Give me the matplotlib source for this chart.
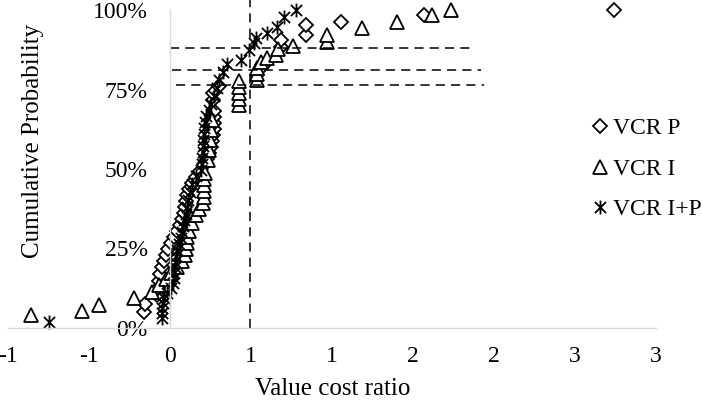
import matplotlib
matplotlib.use("Agg")
import matplotlib.pyplot as plt
from matplotlib.path import Path
from matplotlib.ticker import PercentFormatter

plt.rcParams['font.family'] = ['Liberation Serif', 'DejaVu Serif']
plt.rcParams['font.size'] = 17

# Cumulative distributions
vcr_p_x = [-0.160, -0.154, -0.080, -0.074, -0.068, -0.062, -0.049, -0.037, -0.025, -0.012,
           0.006, 0.025, 0.043, 0.062, 0.074, 0.086, 0.093, 0.099, 0.105, 0.117,
           0.136, 0.160, 0.185, 0.210, 0.228, 0.241, 0.253, 0.259, 0.265, 0.272,
           0.272, 0.272, 0.272, 0.265, 0.265, 0.302, 0.537, 0.574, 0.685, 0.685,
           0.840, 0.840, 1.056, 1.568, 2.741]
vcr_p_y = [0.050, 0.075, 0.104, 0.126, 0.148, 0.170, 0.192, 0.211, 0.230, 0.248,
           0.267, 0.286, 0.305, 0.324, 0.343, 0.362, 0.381, 0.399, 0.418, 0.437,
           0.456, 0.475, 0.494, 0.513, 0.531, 0.550, 0.569, 0.588, 0.607, 0.626,
           0.645, 0.664, 0.682, 0.717, 0.739, 0.761, 0.796, 0.824, 0.884, 0.906,
           0.921, 0.953, 0.962, 0.984, 1.000]

vcr_i_x = [-0.858, -0.543, -0.438, -0.222, -0.111, -0.068, -0.025, 0.006, 0.043, 0.074,
           0.093, 0.099, 0.105, 0.105, 0.117, 0.136, 0.160, 0.179, 0.204, 0.210,
           0.210, 0.210, 0.210, 0.216, 0.235, 0.241, 0.247, 0.253, 0.259, 0.426,
           0.426, 0.426, 0.426, 0.426, 0.537, 0.537, 0.537, 0.562, 0.599, 0.654,
           0.667, 0.759, 0.969, 0.969, 1.185, 1.401, 1.617, 1.735]
vcr_i_y = [0.041, 0.053, 0.072, 0.094, 0.113, 0.135, 0.154, 0.173, 0.192, 0.211,
           0.230, 0.248, 0.267, 0.286, 0.305, 0.330, 0.355, 0.374, 0.393, 0.412,
           0.431, 0.450, 0.469, 0.487, 0.528, 0.560, 0.591, 0.623, 0.654, 0.701,
           0.720, 0.739, 0.758, 0.777, 0.780, 0.799, 0.818, 0.836, 0.849, 0.858,
           0.877, 0.887, 0.899, 0.921, 0.943, 0.962, 0.984, 1.000]

vcr_ip_x = [-0.747, -0.049, -0.049, -0.049, -0.043, -0.037, -0.019, 0.006, 0.019, 0.025,
            0.025, 0.031, 0.031, 0.037, 0.043, 0.056, 0.068, 0.074, 0.080, 0.086,
            0.099, 0.105, 0.111, 0.123, 0.136, 0.160, 0.191, 0.198, 0.198, 0.204,
            0.204, 0.204, 0.210, 0.210, 0.216, 0.222, 0.241, 0.253, 0.272, 0.290,
            0.302, 0.327, 0.352, 0.438, 0.488, 0.519, 0.531, 0.599, 0.660, 0.704,
            0.778]
vcr_ip_y = [0.019, 0.031, 0.047, 0.063, 0.079, 0.094, 0.110, 0.126, 0.142, 0.157,
            0.173, 0.192, 0.208, 0.226, 0.245, 0.264, 0.283, 0.302, 0.321, 0.340,
            0.358, 0.381, 0.403, 0.428, 0.453, 0.478, 0.497, 0.516, 0.535, 0.553,
            0.572, 0.591, 0.610, 0.629, 0.648, 0.667, 0.686, 0.704, 0.730, 0.755,
            0.780, 0.805, 0.830, 0.843, 0.874, 0.896, 0.912, 0.928, 0.947, 0.978,
            1.000]

# Threshold guide lines
vline_x = 0.494
hlines_y = [0.881, 0.811, 0.764]
hlines_x0 = [0.0, 0.01, 0.04]
hlines_x1 = [1.86, 1.92, 1.94]

x_ticks = [-1, -0.5, 0, 0.5, 1, 1.5, 2, 2.5, 3]
x_tick_labels = ["-1", "-1", "0", "1", "1", "2", "2", "3", "3"]
y_ticks = [0, 0.25, 0.5, 0.75, 1.0]

# Excel-like asterisk marker: vertical bar plus an X
star = Path([(0, -1), (0, 1), (-0.8, -0.8), (0.8, 0.8), (-0.8, 0.8), (0.8, -0.8)],
            [Path.MOVETO, Path.LINETO, Path.MOVETO, Path.LINETO, Path.MOVETO, Path.LINETO])

fig = plt.figure(figsize=(7.02, 4.01), dpi=100)
ax = fig.add_axes([8 / 702, 73 / 401, 648 / 702, 318 / 401])

ax.plot(vcr_p_x, vcr_p_y, ls='none', marker='D', ms=6.8, mfc='white', mec='black',
        mew=1.3, clip_on=False, label='VCR P')
ax.plot(vcr_i_x, vcr_i_y, ls='none', marker='^', ms=10, mfc='white', mec='black',
        mew=1.3, clip_on=False, label='VCR I')
ax.plot(vcr_ip_x, vcr_ip_y, ls='none', marker=star, ms=10, mfc='none', mec='black',
        mew=1.3, clip_on=False, label='VCR I+P')

ax.plot([vline_x, vline_x], [0, 1.03], color='black', lw=1.1, ls=(0, (6, 4)), clip_on=False)
for y, x0, x1 in zip(hlines_y, hlines_x0, hlines_x1):
    ax.plot([x0, x1], [y, y], color='black', lw=1.1, ls=(0, (6, 4)))

ax.set_xlim(-1, 3)
ax.set_ylim(0, 1)
ax.set_xticks(x_ticks)
ax.set_xticklabels(x_tick_labels)
ax.set_yticks(y_ticks)
ax.yaxis.set_major_formatter(PercentFormatter(1.0, decimals=0))
ax.tick_params(axis='x', length=0, pad=13)
ax.tick_params(axis='y', length=0, pad=16)

for s in ['top', 'right']:
    ax.spines[s].set_visible(False)
ax.spines['left'].set_position(('data', 0))
for s in ['left', 'bottom']:
    ax.spines[s].set_color('#d9d9d9')
    ax.spines[s].set_linewidth(1.0)

fig.text(33 / 702, 1 - 141 / 401, "Cumulative Probability", rotation=90,
         ha='center', va='center', fontsize=18)
fig.text(333 / 702, 1 - 389 / 401, "Value cost ratio", ha='center', va='center',
         fontsize=18)

fig.legend(loc='center left', bbox_to_anchor=(589 / 702, 1 - 169 / 401),
           frameon=False, handlelength=0.9, handletextpad=0.1, labelspacing=0.8,
           borderpad=0, borderaxespad=0)

fig.savefig("out.png", dpi=100)
